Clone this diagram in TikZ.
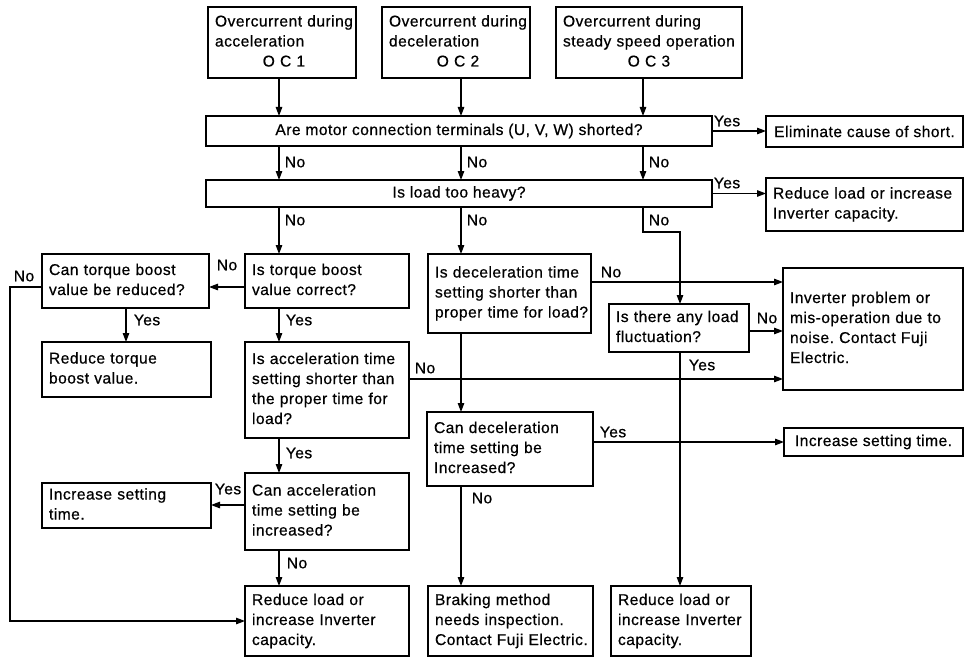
\documentclass[tikz,border=0pt]{standalone}
\usepackage{fontspec}
\setmainfont{Liberation Sans}[LetterSpace=3,FakeBold=0.6]
\usetikzlibrary{arrows.meta}
\frenchspacing
\newcommand\tx[1]{\noindent\begin{tabular}{@{}l@{}}#1\end{tabular}}
\newcommand\mc[1]{\multicolumn{1}{@{}c@{}}{#1}}
\begin{document}
\begin{tikzpicture}[x=1pt,y=-1pt,
  font=\fontsize{15.6}{20}\selectfont\frenchspacing,
  qbox/.style={draw, line width=1.2pt, anchor=north west, inner xsep=7pt, inner ysep=0pt, outer sep=0pt},
  rbox/.style={qbox, line width=2.6pt},
  arr/.style={line width=1.2pt, -{Triangle[length=9pt,width=6.5pt]}},
  lbl/.style={inner sep=0pt}]
\useasboundingbox (0,0) rectangle (966,658);
% columns and rows
\coordinate (xA) at (279,0);
\coordinate (xB) at (461,0);
\coordinate (xC) at (643,0);
\coordinate (xD) at (680,0);
\coordinate (xE) at (126,0);
\coordinate (xF) at (10,0);
\coordinate (yB) at (0,232);
\coordinate (yT) at (0,287);
\coordinate (yD) at (0,282);
\coordinate (yL) at (0,331);
\coordinate (yA) at (0,379);
\coordinate (yC) at (0,442);
\coordinate (yA2) at (0,505);
\coordinate (yR) at (0,621);
% top boxes
\node[qbox, text width=134pt, minimum height=71pt] (b1) at (208,7) {\tx{Overcurrent during\\acceleration\\\mc{O C 1}}};
\node[qbox, text width=134pt, minimum height=71pt] (b2) at (382,7) {\tx{Overcurrent during\\deceleration\\\mc{O C 2}}};
\node[qbox, text width=172pt, minimum height=71pt] (b3) at (556,7) {\tx{Overcurrent during\\steady speed operation\\\mc{O C 3}}};
% questions row
\node[qbox, minimum width=506pt, minimum height=30pt, align=center] (q1) at (206,116) {Are motor connection terminals (U, V, W) shorted?};
\node[rbox, minimum width=197pt, minimum height=31pt, align=center] (e1) at (766,116) {Eliminate cause of short.};
\node[qbox, minimum width=506pt, minimum height=27pt, align=center] (q2) at (206,180) {Is load too heavy?};
\node[rbox, text width=183pt, minimum height=53pt] (e2) at (766,178) {\tx{Reduce load or increase\\Inverter capacity.}};
% middle
\node[qbox, text width=153pt, minimum height=54pt] (c1) at (42,254) {\tx{Can torque boost\\value be reduced?}};
\node[qbox, text width=150pt, minimum height=54pt] (t1) at (245,254) {\tx{Is torque boost\\value correct?}};
\node[qbox, text width=149pt, minimum height=79pt] (d1) at (428,254) {\tx{Is deceleration time\\setting shorter than\\proper time for load?}};
\node[rbox, text width=166pt, minimum height=122pt] (inv) at (783,268) {\tx{Inverter problem or\\mis-operation due to\\noise. Contact Fuji\\Electric.}};
\node[qbox, text width=126pt, minimum height=48pt] (l1) at (609,304) {\tx{Is there any load\\fluctuation?}};
\node[rbox, text width=155pt, minimum height=55pt] (r2) at (42,342) {\tx{Reduce torque\\boost value.}};
\node[qbox, text width=150pt, minimum height=96pt] (a1) at (245,342) {\tx{Is acceleration time\\setting shorter than\\the proper time for\\load?}};
\node[qbox, text width=152pt, minimum height=74pt] (c2) at (427,412) {\tx{Can deceleration\\time setting be\\Increased?}};
\node[rbox, minimum width=179pt, minimum height=28pt, align=center] (r4) at (784,428) {Increase setting time.};
\node[qbox, text width=150pt, minimum height=77pt] (a2) at (245,473) {\tx{Can acceleration\\time setting be\\increased?}};
\node[rbox, text width=155pt, minimum height=45pt] (r3) at (42,483) {\tx{Increase setting\\time.}};
% bottom
\node[rbox, text width=150pt, minimum height=70pt] (r1) at (245,586) {\tx{Reduce load or\\increase Inverter\\capacity.}};
\node[rbox, text width=151pt, minimum height=70pt] (r5) at (428,586) {\tx{Braking method\\needs inspection.\\Contact Fuji Electric.}};
\node[rbox, text width=126pt, minimum height=70pt] (r6) at (611,586) {\tx{Reduce load or\\increase Inverter\\capacity.}};
% connectors: top
\draw[arr] (b1.south -| xA) -- (q1.north -| xA);
\draw[arr] (b2.south -| xB) -- (q1.north -| xB);
\draw[arr] (b3.south -| xC) -- (q1.north -| xC);
\draw[arr] (q1.east) -- (q1.east -| e1.west);
\draw[arr] (q1.south -| xA) -- (q2.north -| xA);
\draw[arr] (q1.south -| xB) -- (q2.north -| xB);
\draw[arr] (q1.south -| xC) -- (q2.north -| xC);
\draw[arr] (q2.east) -- (q2.east -| e2.west);
\draw[arr] (q2.south -| xA) -- (t1.north -| xA);
\draw[arr] (q2.south -| xB) -- (d1.north -| xB);
\draw[arr] (q2.south -| xC) -- (xC |- yB) -- (xD |- yB) -- (l1.north -| xD);
% left
\draw[arr] (t1.west |- yT) -- (c1.east |- yT);
\draw[arr] (c1.west |- yT) -- (xF |- yT) -- (xF |- yR) -- (r1.west |- yR);
\draw[arr] (c1.south -| xE) -- (r2.north -| xE);
\draw[arr] (t1.south -| xA) -- (a1.north -| xA);
\draw[arr] (a1.south -| xA) -- (a2.north -| xA);
\draw[arr] (a2.west |- yA2) -- (r3.east |- yA2);
\draw[arr] (a2.south -| xA) -- (r1.north -| xA);
% middle/right
\draw[arr] (a1.east |- yA) -- (inv.west |- yA);
\draw[arr] (d1.east |- yD) -- (inv.west |- yD);
\draw[arr] (l1.east |- yL) -- (inv.west |- yL);
\draw[arr] (d1.south -| xB) -- (c2.north -| xB);
\draw[arr] (c2.east |- yC) -- (r4.west |- yC);
\draw[arr] (c2.south -| xB) -- (r5.north -| xB);
\draw[arr] (l1.south -| xD) -- (r6.north -| xD);
% labels
\node[lbl] (lq1y) at (727,121) {Yes};
\node[lbl] (lq2y) at (727,183) {Yes};
\node[lbl] (lq1a) at (295,162) {No};
\node[lbl] (lq1b) at (477,162) {No};
\node[lbl] (lq1c) at (659,162) {No};
\node[lbl] (lq2a) at (295,220) {No};
\node[lbl] (lq2b) at (477,220) {No};
\node[lbl] (lq2c) at (659,220) {No};
\node[lbl] (lt1n) at (227,265) {No};
\node[lbl] (lc1n) at (24,276) {No};
\node[lbl] (lc1y) at (147,320) {Yes};
\node[lbl] (lt1y) at (299,320) {Yes};
\node[lbl] (la1n) at (425,368) {No};
\node[lbl] (ld1n) at (611,272) {No};
\node[lbl] (ll1n) at (767,318) {No};
\node[lbl] (ll1y) at (702,365) {Yes};
\node[lbl] (la1y) at (299,453) {Yes};
\node[lbl] (la2y) at (228,489) {Yes};
\node[lbl] (la2n) at (297,563) {No};
\node[lbl] (lc2y) at (613,432) {Yes};
\node[lbl] (lc2n) at (482,498) {No};
\end{tikzpicture}
\end{document}
